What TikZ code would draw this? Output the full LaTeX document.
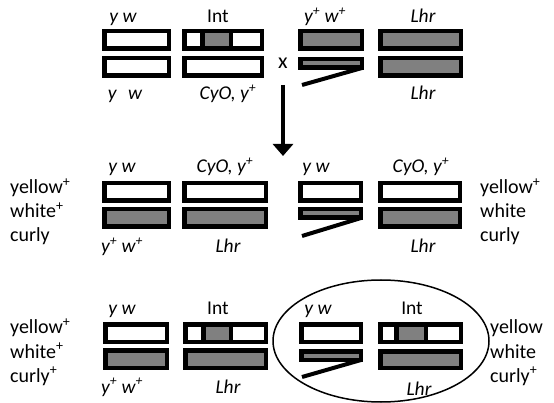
\documentclass[tikz,border=0pt]{standalone}
\usepackage{fontspec}
\setmainfont{Carlito}
\usetikzlibrary{arrows.meta}
\definecolor{chrgray}{HTML}{808080}
% chromosome bar given by its outer edges; the thick outline sits inside them
\newcommand\chrbox[5]{\draw[#1] ({#2+2.25},{#3+2.25}) rectangle ({#4-2.25},{#5-2.25});}
\begin{document}
\begin{tikzpicture}[x=1pt,y=-1pt,
  chr/.style={draw=black, line width=4.5pt, fill=white},
  chrg/.style={chr, fill=chrgray},
  brk/.style={draw=black, line width=4pt},
  lbl/.style={font=\fontsize{19.5}{22}\selectfont\itshape, anchor=base, inner sep=0pt},
  lblup/.style={font=\fontsize{19.5}{22}\selectfont, anchor=base, inner sep=0pt},
  pheno/.style={font=\fontsize{20}{23}\selectfont, anchor=base west, inner sep=0pt}]
\useasboundingbox (0,0) rectangle (554,403);

% ---------- parents ----------
\chrbox{chr}{102}{29}{171}{51}
\chrbox{chr}{102}{56}{171}{78}
\chrbox{chr}{182}{29}{264}{51}
\chrbox{chrg}{200}{29}{233}{51}
\chrbox{chr}{182}{56}{264}{78}
\chrbox{chrg}{298}{29}{364}{51}
\chrbox{chrg}{298}{57}{364}{70}
\draw[brk] (362,68) -- (302,85);
\chrbox{chrg}{378}{29}{463}{51}
\chrbox{chrg}{378}{56}{463}{78}

\node[lbl] (p1a) at (123,23) {y w};
\node[lblup] (p1b) at (218,23) {Int};
\node[lbl] (p2a) at (325,23) {y\textsuperscript{+} w\textsuperscript{+}};
\node[lbl] (p2b) at (423,23) {Lhr};
\node[lbl] (p1c) at (125,100) {y\hspace{0.6em}w};
\node[lbl] (p1d) at (228,100) {CyO, y\textsuperscript{+}};
\node[lbl] (p2d) at (423,100) {Lhr};
\node[lblup, font=\fontsize{22}{24}\selectfont] (cross) at (283,69) {x};

\coordinate (arrS) at (283,85);
\coordinate (arrE) at (283,156);
\draw[line width=4pt, -{Triangle[width=20pt,length=12pt]}] (arrS) -- (arrE);

% ---------- F1, second row ----------
\chrbox{chr}{102}{181}{171}{203}
\chrbox{chrg}{102}{207}{171}{229}
\chrbox{chr}{182}{181}{268}{203}
\chrbox{chrg}{182}{207}{268}{229}
\chrbox{chr}{298}{181}{363}{203}
\chrbox{chrg}{298}{207}{363}{220}
\draw[brk] (361,218) -- (302,236);
\chrbox{chr}{378}{181}{462}{203}
\chrbox{chrg}{378}{207}{462}{229}

\node[lbl] (a1) at (122,173) {y w};
\node[lbl] (a2) at (225,173) {CyO, y\textsuperscript{+}};
\node[lbl] (a3) at (122,253) {y\textsuperscript{+} w\textsuperscript{+}};
\node[lbl] (a4) at (228,253) {Lhr};
\node[lbl] (b1) at (316,173) {y w};
\node[lbl] (b2) at (421,173) {CyO, y\textsuperscript{+}};
\node[lbl] (b4) at (423,253) {Lhr};
\node[pheno] (pa1) at (10,194) {yellow\textsuperscript{+}};
\node[pheno] (pa2) at (10,218) {white\textsuperscript{+}};
\node[pheno] (pa3) at (10,242) {curly};
\node[pheno] (pb1) at (480,194) {yellow\textsuperscript{+}};
\node[pheno] (pb2) at (480,218) {white};
\node[pheno] (pb3) at (480,242) {curly};

% ---------- F1, third row ----------
\chrbox{chr}{103}{322}{169}{344}
\chrbox{chrg}{103}{348}{169}{370}
\chrbox{chr}{183}{322}{268}{344}
\chrbox{chrg}{201}{322}{233}{344}
\chrbox{chrg}{183}{348}{268}{370}
\chrbox{chr}{299}{322}{363}{344}
\chrbox{chrg}{299}{349}{363}{362}
\draw[brk] (361,360) -- (302,377);
\chrbox{chr}{378}{322}{463}{344}
\chrbox{chrg}{394}{322}{428}{344}
\chrbox{chrg}{378}{349}{463}{370}

\node[lbl] (c1) at (122,314) {y w};
\node[lblup] (c2) at (218,314) {Int};
\node[lbl] (c3) at (122,393) {y\textsuperscript{+} w\textsuperscript{+}};
\node[lbl] (c4) at (228,393) {Lhr};
\node[lbl] (d1) at (318,314) {y w};
\node[lblup] (d2) at (412,314) {Int};
\node[lbl] (d4) at (419,395) {Lhr};
\node[pheno] (pc1) at (10,334) {yellow\textsuperscript{+}};
\node[pheno] (pc2) at (10,358) {white\textsuperscript{+}};
\node[pheno] (pc3) at (10,382) {curly\textsuperscript{+}};
\node[pheno] (pd1) at (490,334) {yellow};
\node[pheno] (pd2) at (490,358) {white};
\node[pheno] (pd3) at (490,382) {curly\textsuperscript{+}};

\draw[line width=1.5pt] (381,341) ellipse [x radius=108pt, y radius=61pt];
\end{tikzpicture}
\end{document}
